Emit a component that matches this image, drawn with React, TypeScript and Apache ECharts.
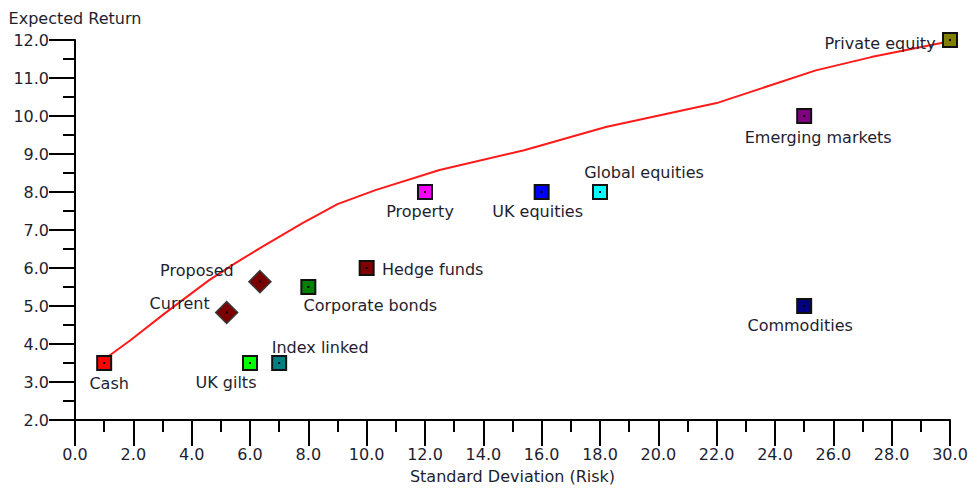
import React, { useEffect, useRef } from "react";
import * as echarts from "echarts";

// Efficient frontier (risk, return)
const frontierRisk = [1.1, 1.9, 3.1, 4.6, 5.5, 6.4, 7.8, 9.0, 10.3, 12.5, 15.4, 18.2, 22.0, 25.4, 27.3, 29.7, 30.0];
const frontierReturn = [3.65, 4.1, 4.82, 5.68, 6.13, 6.55, 7.18, 7.68, 8.05, 8.58, 9.1, 9.71, 10.34, 11.2, 11.55, 11.92, 12.0];

// Asset classes
const assetNames = ["Cash", "UK gilts", "Index linked", "Corporate bonds", "Hedge funds", "Property", "UK equities", "Global equities", "Emerging markets", "Commodities", "Private equity"];
const assetRisk = [1, 6, 7, 8, 10, 12, 16, 18, 25, 25, 30];
const assetReturn = [3.5, 3.5, 3.5, 5.5, 6.0, 8.0, 8.0, 8.0, 10.0, 5.0, 12.0];
const assetColors = ["#ff0000", "#00ff00", "#008080", "#008000", "#800000", "#ff00ff", "#0000ff", "#00ffff", "#800080", "#000080", "#808000"];
// label offsets in px relative to marker centre
const assetLabelOffsets = [[5, 20], [-24, 19], [41, -16], [62, 18], [66, 1], [-5, 19], [-4, 19], [44, -20], [14, 21], [-4, 19], [-70, 3]];

// Portfolios
const portfolioNames = ["Current", "Proposed"];
const portfolioRisk = [5.2, 6.34];
const portfolioReturn = [4.83, 5.64];
const portfolioLabelOffsets = [[-47, -9], [-63, -11]];

// Axis ticks
const xMin = 0, xMax = 30, xInterval = 2;
const yMin = 2, yMax = 12, yInterval = 1;

const FONT = "DejaVu Sans";
const TEXT = "#1e1e30";

export default function App() {
  const ref = useRef<HTMLDivElement>(null);
  useEffect(() => {
    document.body.style.margin = "0";
    if (!ref.current) return;
    const chart = echarts.init(ref.current, null, { renderer: "svg" });
    const axisCommon = {
      axisLine: { show: true, onZero: false, lineStyle: { color: "#000", width: 2 } },
      axisTick: { show: true, length: 26, lineStyle: { color: "#000", width: 2 } },
      minorTick: { show: true, splitNumber: 2, length: 12, lineStyle: { color: "#000", width: 2 } },
      splitLine: { show: false },
      minorSplitLine: { show: false },
      axisLabel: { color: TEXT, fontFamily: FONT, fontSize: 16, margin: 26, formatter: (v: number) => v.toFixed(1) },
      nameTextStyle: { color: TEXT, fontFamily: FONT, fontSize: 16 },
      nameMoveOverlap: false,
    };
    chart.setOption({
      animation: false,
      backgroundColor: "#fff",
      grid: { left: 75, right: 20, top: 40, bottom: 69, containLabel: false, outerBoundsMode: "none" },
      xAxis: {
        type: "value",
        min: xMin,
        max: xMax,
        interval: xInterval,
        name: "Standard Deviation (Risk)",
        nameLocation: "middle",
        nameGap: 48,
        ...axisCommon,
        axisLabel: { ...axisCommon.axisLabel, showMaxLabel: true },
      },
      yAxis: {
        type: "value",
        min: yMin,
        max: yMax,
        interval: yInterval,
        name: "Expected Return",
        nameLocation: "end",
        nameGap: 22,
        ...axisCommon,
        nameTextStyle: { ...axisCommon.nameTextStyle, align: "center", verticalAlign: "middle" },
      },
      series: [
        {
          type: "line",
          data: frontierRisk.map((x, i) => [x, frontierReturn[i]]),
          showSymbol: false,
          symbol: "none",
          lineStyle: { color: "#ff1a1a", width: 2 },
          silent: true,
          z: 1,
        },
        {
          type: "scatter",
          symbol: "rect",
          symbolSize: 14,
          z: 3,
          data: assetNames.map((n, i) => ({
            name: n,
            value: [assetRisk[i], assetReturn[i]],
            itemStyle: { color: assetColors[i], borderColor: "#111", borderWidth: 2, opacity: 1 },
            label: {
              show: true,
              position: "inside",
              offset: assetLabelOffsets[i],
              formatter: n,
              color: TEXT,
              fontFamily: FONT,
              fontSize: 16,
            },
          })),
        },
        {
          type: "scatter",
          symbol: "diamond",
          symbolSize: 22,
          z: 3,
          data: portfolioNames.map((n, i) => ({
            name: n,
            value: [portfolioRisk[i], portfolioReturn[i]],
            itemStyle: { color: "#7a0000", borderColor: "#3a3a3a", borderWidth: 1.5, opacity: 1 },
            label: {
              show: true,
              position: "inside",
              offset: portfolioLabelOffsets[i],
              formatter: n,
              color: TEXT,
              fontFamily: FONT,
              fontSize: 16,
            },
          })),
        },
        {
          type: "scatter",
          symbol: "rect",
          symbolSize: 2,
          silent: true,
          z: 4,
          itemStyle: { color: "#000", opacity: 1 },
          data: [
            ...assetRisk.map((x, i) => [x, assetReturn[i]]),
            ...portfolioRisk.map((x, i) => [x, portfolioReturn[i]]),
          ],
        },
      ],
    });
    return () => chart.dispose();
  }, []);
  return <div ref={ref} style={{ width: 970, height: 489 }} />;
}
